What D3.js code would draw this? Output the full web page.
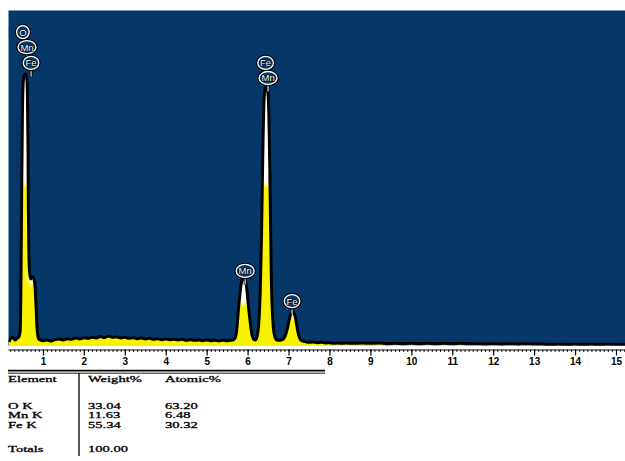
<!DOCTYPE html>
<html>
<head>
<meta charset="utf-8">
<script src="https://cdn.jsdelivr.net/npm/d3@7/dist/d3.min.js"></script>
<style>
  html, body { margin: 0; padding: 0; background: #fff; }
  svg { display: block; }
</style>
</head>
<body>
<svg id="chart" width="625" height="461"></svg>
<script>
// EDS spectrum, [energy keV, counts]
const spectrum = [
  [0.17,12],[0.20,20],[0.23,24],[0.26,26],[0.29,22],[0.32,18],[0.35,21],[0.38,24],[0.41,27],
  [0.44,40],[0.46,150],[0.48,450],[0.50,700],[0.52,790],[0.55,810],[0.575,812],[0.60,805],
  [0.62,760],[0.635,600],[0.645,400],[0.655,290],[0.67,225],
  [0.70,200],[0.74,207],[0.78,200],[0.81,172],[0.835,110],[0.855,55],[0.88,28],[0.90,20],
  [1.0,16],[1.1,18],[1.2,15],[1.3,19],[1.4,21],[1.5,18],[1.6,22],[1.7,20],[1.8,24],[1.9,21],
  [2.0,25],[2.1,23],[2.2,26],[2.3,24],[2.4,28],[2.5,25],[2.6,30],[2.7,26],[2.8,27],[2.9,24],
  [3.0,26],[3.1,23],[3.2,25],[3.3,22],[3.4,24],[3.5,21],[3.6,23],[3.7,20],[3.8,22],[3.9,19],
  [4.0,21],[4.1,19],[4.2,20],[4.3,18],[4.4,20],[4.5,17],[4.6,19],[4.7,17],[4.8,18],[4.9,16],
  [5.0,18],[5.1,16],[5.2,17],[5.3,15],[5.4,17],[5.5,16],[5.6,17],
  [5.66,19],[5.70,26],[5.73,42],[5.76,85],[5.80,140],[5.84,182],[5.88,201],[5.91,204],
  [5.94,199],[5.98,170],[6.02,120],[6.06,75],[6.10,38],[6.15,20],[6.19,18],
  [6.23,28],[6.27,62],[6.31,170],[6.34,330],[6.37,560],[6.40,730],[6.43,772],[6.46,775],
  [6.49,762],[6.52,690],[6.55,460],[6.58,200],[6.62,70],[6.66,30],[6.70,19],
  [6.76,17],[6.82,18],[6.88,22],
  [6.93,34],[6.97,52],[7.02,80],[7.06,98],[7.10,103],[7.14,97],[7.18,78],[7.22,48],[7.27,24],[7.33,15],
  [7.4,13],[7.5,11],[7.6,12],[7.7,10],[7.8,11],[7.9,9],[8.0,10],[8.1,8],[8.2,9],[8.3,8],[8.4,9],
  [8.6,8],[8.8,9],[9.0,8],[9.2,9],[9.4,7],[9.6,8],[9.8,7],[10.0,8],[10.2,7],[10.4,8],[10.6,7],
  [10.8,8],[11.0,7],[11.2,8],[11.4,7],[11.6,7],[11.8,6],[12.0,7],[12.2,6],[12.4,7],[12.6,6],
  [12.8,7],[13.0,6],[13.2,6],[13.4,5],[13.6,6],[13.8,5],[14.0,6],[14.2,5],[14.4,6],[14.6,5],
  [14.8,6],[15.0,5],[15.2,5],[15.3,5]
];

// element markers: symbol, energy (keV), label height (counts)
const markers = [
  { el: "O",  keV: 0.51,  counts: 937 },
  { el: "Mn", keV: 0.61,  counts: 892 },
  { el: "Fe", keV: 0.71,  counts: 845 },
  { el: "Fe", keV: 6.44,  counts: 845 },
  { el: "Mn", keV: 6.50,  counts: 800 },
  { el: "Mn", keV: 5.94,  counts: 224 },
  { el: "Fe", keV: 7.085, counts: 134 }
];

const tickValues = [1,2,3,4,5,6,7,8,9,10,11,12,13,14,15];

// quantification table
const tableHeader = ["Element", "Weight%", "Atomic%"];
const elementRows = ["O K", "Mn K", "Fe K"];
const weightPct = ["33.04", "11.63", "55.34"];
const atomicPct = ["63.20", "6.48", "30.32"];
const totalLabel = "Totals";
const totalWeight = "100.00";

const svg = d3.select("#chart");
const plot = { left: 8.5, top: 10.5, right: 625, bottom: 346 };

const x = d3.scaleLinear().domain([0, 15]).range([2, 616]);
const y = d3.scaleLinear().domain([0, 1000]).range([plot.bottom, 11]);

const defs = svg.append("defs");
defs.append("clipPath").attr("id", "plotClip")
  .append("rect")
  .attr("x", plot.left).attr("y", plot.top)
  .attr("width", plot.right - plot.left).attr("height", plot.bottom - plot.top);

// soft white highlight on the upper part of each peak
const blur = defs.append("filter").attr("id", "soft")
  .attr("x", "-20%").attr("y", "-20%").attr("width", "140%").attr("height", "140%");
blur.append("feGaussianBlur").attr("stdDeviation", 2.2);
const mask = defs.append("mask").attr("id", "peakTops").attr("maskUnits", "userSpaceOnUse")
  .attr("x", 0).attr("y", 0).attr("width", 625).attr("height", 461);
const topZones = [
  [0.40, 0.66, 480, 1000],
  [0.66, 0.88, 185, 400],
  [5.74, 6.10, 125, 400],
  [6.28, 6.62, 480, 1000],
  [6.98, 7.24, 85, 300]
];
mask.append("g").attr("filter", "url(#soft)")
  .selectAll("rect").data(topZones).join("rect")
  .attr("x", d => x(d[0])).attr("width", d => x(d[1]) - x(d[0]))
  .attr("y", d => y(d[3])).attr("height", d => y(d[2]) - y(d[3]))
  .attr("fill", "#fff");

// background panel
svg.append("rect")
  .attr("x", plot.left).attr("y", plot.top)
  .attr("width", plot.right - plot.left).attr("height", plot.bottom - plot.top)
  .attr("fill", "#053868");

const g = svg.append("g").attr("clip-path", "url(#plotClip)");

const area = d3.area()
  .x(d => x(d[0])).y0(y(0)).y1(d => y(d[1]))
  .curve(d3.curveMonotoneX);
const line = d3.line()
  .x(d => x(d[0])).y(d => y(d[1]))
  .curve(d3.curveMonotoneX);

g.append("path").datum(spectrum).attr("d", area).attr("fill", "#f7f300");
g.append("path").datum(spectrum).attr("d", area).attr("fill", "#ffffff")
  .attr("mask", "url(#peakTops)");
g.append("path").datum(spectrum).attr("d", line)
  .attr("fill", "none").attr("stroke", "#000")
  .attr("stroke-width", 3).attr("stroke-linejoin", "round");

// peak markers
const rx = { O: 6.3, Mn: 9, Fe: 7.8 };
const ry = 6.5;
const mk = svg.append("g");
mk.selectAll("line").data(markers).join("line")
  .attr("x1", d => x(d.keV)).attr("x2", d => x(d.keV))
  .attr("y1", d => y(d.counts) + ry).attr("y2", d => y(d.counts) + ry + 7)
  .attr("stroke", "#000").attr("stroke-width", 3);
mk.selectAll("line.w").data(markers).join("line").attr("class", "w")
  .attr("x1", d => x(d.keV)).attr("x2", d => x(d.keV))
  .attr("y1", d => y(d.counts) + ry).attr("y2", d => y(d.counts) + ry + 7)
  .attr("stroke", "#fff").attr("stroke-width", 1.1);
const badge = mk.selectAll("g.badge").data(markers).join("g").attr("class", "badge")
  .attr("transform", d => `translate(${x(d.keV)},${y(d.counts)})`);
badge.append("ellipse")
  .attr("rx", d => rx[d.el]).attr("ry", ry)
  .attr("fill", "#053868").attr("stroke", "#000").attr("stroke-width", 3.6);
badge.append("ellipse")
  .attr("rx", d => rx[d.el]).attr("ry", ry)
  .attr("fill", "#063a6c").attr("stroke", "#fff").attr("stroke-width", 1.3);
badge.append("text")
  .attr("text-anchor", "middle").attr("dy", "0.36em")
  .attr("font-family", "Liberation Sans, Arial, sans-serif")
  .attr("font-size", 9.5)
  .attr("fill", "#fff").attr("stroke", "#000").attr("stroke-width", 1.2)
  .attr("paint-order", "stroke")
  .text(d => d.el);

// energy axis
const axisY = 349.5;
const minor = d3.range(2, 153).map(i => i / 10);
svg.append("g").attr("transform", `translate(0,${axisY})`)
  .call(d3.axisBottom(x).tickValues(minor).tickSize(2.5).tickFormat(""))
  .call(a => a.select(".domain").remove())
  .call(a => a.selectAll("line").attr("stroke", "#222"));
const ax = svg.append("g").attr("transform", `translate(0,${axisY})`)
  .call(d3.axisBottom(x).tickValues(tickValues).tickSize(6).tickPadding(2.5).tickFormat(d3.format("d")));
ax.select(".domain").attr("d", `M${plot.left},0.5H${plot.right}`).attr("stroke", "#111");
ax.selectAll("line").attr("stroke", "#000").attr("stroke-width", 1.2);
ax.selectAll("text")
  .attr("font-family", "Liberation Sans, Arial, sans-serif")
  .attr("font-weight", "bold").attr("font-size", 10).attr("fill", "#000");

// results table
const tbl = svg.append("g").attr("font-family", "Liberation Serif, Times New Roman, serif")
  .attr("font-size", 9).attr("fill", "#000")
  .attr("stroke", "#000").attr("stroke-width", 0.3);
svg.append("line").attr("x1", 8).attr("x2", 325).attr("y1", 370.6).attr("y2", 370.6)
  .attr("stroke", "#000").attr("stroke-width", 1.8);
svg.append("line").attr("x1", 8).attr("x2", 325).attr("y1", 373.2).attr("y2", 373.2)
  .attr("stroke", "#000").attr("stroke-width", 0.9);
svg.append("line").attr("x1", 79).attr("x2", 79).attr("y1", 373).attr("y2", 456)
  .attr("stroke", "#000").attr("stroke-width", 1.3);

const colX = [8, 88, 165];
const stretch = 1.62;
function cell(txt, cx, cy) {
  tbl.append("text")
    .attr("transform", `translate(${cx},${cy}) scale(${stretch},1)`)
    .text(txt);
}
tableHeader.forEach((t, i) => cell(t, colX[i], 382));
elementRows.forEach((t, i) => {
  const ry0 = 408.5 + i * 9.6;
  cell(t, colX[0], ry0);
  cell(weightPct[i], colX[1], ry0);
  cell(atomicPct[i], colX[2], ry0);
});
cell(totalLabel, colX[0], 451.5);
cell(totalWeight, colX[1], 451.5);
</script>
</body>
</html>
